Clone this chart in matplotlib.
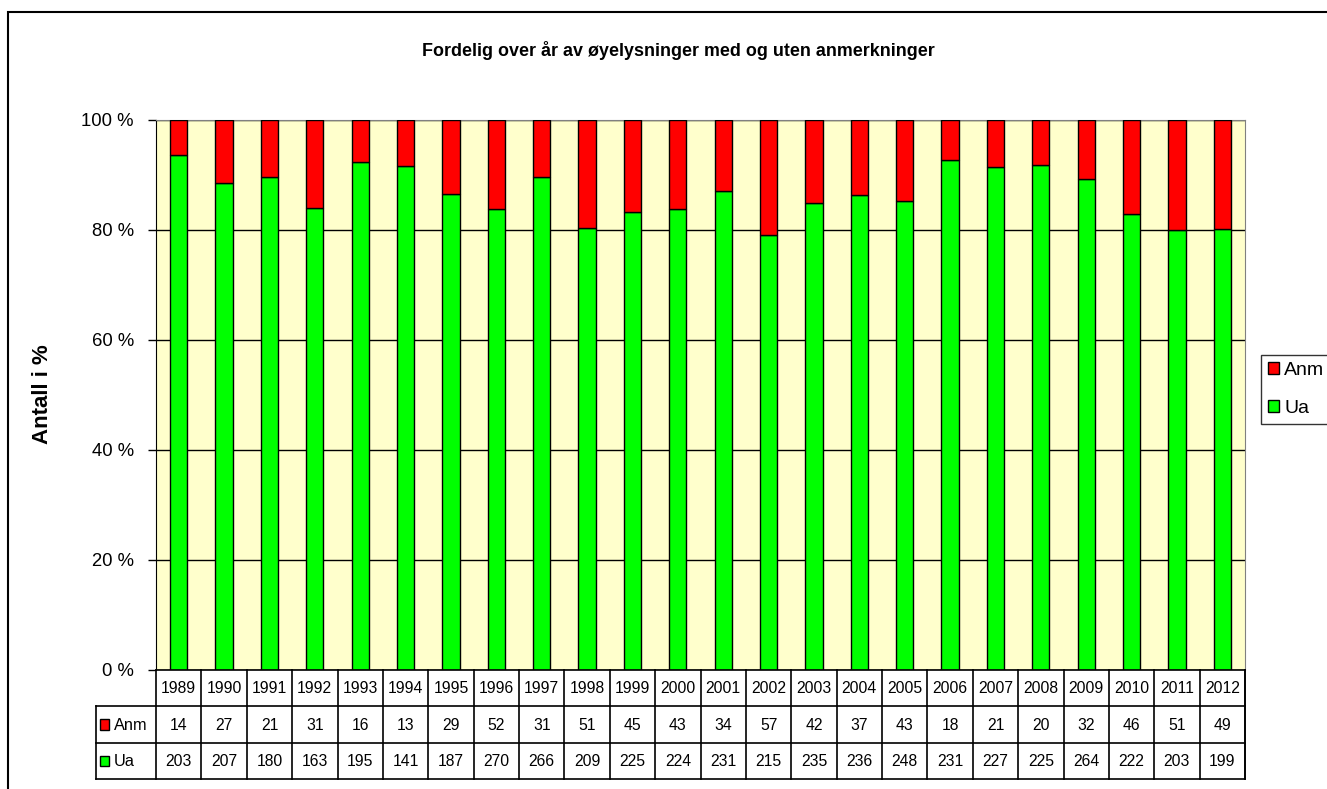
import matplotlib.pyplot as plt
import numpy as np

years = [1989, 1990, 1991, 1992, 1993, 1994, 1995, 1996, 1997, 1998, 1999, 2000,
         2001, 2002, 2003, 2004, 2005, 2006, 2007, 2008, 2009, 2010, 2011, 2012]
anm = [14, 27, 21, 31, 16, 13, 29, 52, 31, 51, 45, 43,
       34, 57, 42, 37, 43, 18, 21, 20, 32, 46, 51, 49]
ua = [203, 207, 180, 163, 195, 141, 187, 270, 266, 209, 225, 224,
      231, 215, 235, 236, 248, 231, 227, 225, 264, 222, 203, 199]

title = 'Fordelig over år av øyelysninger med og uten anmerkninger'
ylabel = 'Antall i %'
red = '#ff0000'
green = '#00ff00'

plt.rcParams['font.family'] = ['Liberation Sans', 'DejaVu Sans']

W, H = 1327, 789
fig = plt.figure(figsize=(W / 100, H / 100), dpi=100)

# outer chart frame
frame = plt.Rectangle((8 / W, -0.1), 1.2, 1 - 12 / H + 0.1, transform=fig.transFigure,
                      fill=False, edgecolor='black', lw=1.5)
fig.patches.append(frame)

left, right, top, bottom = 156, 1245, 120, 670
ax = fig.add_axes([left / W, 1 - bottom / H, (right - left) / W, (bottom - top) / H])

anm = np.array(anm, dtype=float)
ua = np.array(ua, dtype=float)
tot = anm + ua
ua_pct = 100 * ua / tot
anm_pct = 100 * anm / tot
x = np.arange(len(years))

ax.set_facecolor('#ffffcc')
ax.bar(x, ua_pct, width=0.38, color=green, edgecolor='black', lw=1, label='Ua', zorder=3)
ax.bar(x, anm_pct, width=0.38, bottom=ua_pct, color=red, edgecolor='black', lw=1,
       label='Anm', zorder=3)

ax.set_xlim(-0.5, len(years) - 0.5)
ax.set_ylim(0, 100)
ax.set_yticks(range(0, 101, 20))
ax.set_yticklabels(['%d %%' % v for v in range(0, 101, 20)], fontsize=13.3)
ax.yaxis.grid(True, color='black', lw=1, zorder=2)
ax.set_xticks([])
ax.tick_params(axis='y', length=6, width=1, direction='out', pad=10)
for s in ['top', 'right']:
    ax.spines[s].set_color('#808080')
ax.spines['bottom'].set_visible(False)

fig.text(678 / W, 1 - 50 / H, title, ha='center', va='center',
         fontsize=12.9, fontweight='bold')
fig.text(43 / W, 1 - 394 / H, ylabel, rotation=90, ha='center', va='center',
         fontsize=16, fontweight='bold')

# data table under the plot
tab_bottom = 779
tax = fig.add_axes([left / W, 1 - tab_bottom / H, (right - left) / W, (tab_bottom - bottom) / H])
tax.set_xlim(-0.5, len(years) - 0.5)
tax.set_ylim(3, 0)
tax.axis('off')
col_w = (right - left) / len(years)
lab_left = -0.5 - 60 / col_w
lk = dict(color='black', lw=1.2, clip_on=False)
# horizontal lines
tax.plot([-0.5, len(years) - 0.5], [0, 0], **lk)
tax.plot([lab_left, len(years) - 0.5], [1, 1], **lk)
tax.plot([lab_left, len(years) - 0.5], [2, 2], **lk)
tax.plot([lab_left, len(years) - 0.5], [3, 3], **lk)
# vertical lines
for b in np.arange(-0.5, len(years), 1.0):
    tax.plot([b, b], [0, 3], **lk)
tax.plot([len(years) - 0.5] * 2, [0, 3], **lk)
tax.plot([lab_left, lab_left], [1, 3], **lk)

fs = 11.3
for i, yr in enumerate(years):
    tax.text(i, 0.52, str(yr), ha='center', va='center', fontsize=fs)
    tax.text(i, 1.52, '%d' % anm[i], ha='center', va='center', fontsize=fs)
    tax.text(i, 2.52, '%d' % ua[i], ha='center', va='center', fontsize=fs)

sq = 9 / col_w
for row, (name, c) in enumerate([('Anm', red), ('Ua', green)]):
    yc = 1.5 + row
    tax.add_patch(plt.Rectangle((lab_left + 4 / col_w, yc - 0.14), sq, 0.28,
                                facecolor=c, edgecolor='black', lw=1, clip_on=False))
    tax.text(lab_left + 18 / col_w, yc + 0.02, name, ha='left', va='center', fontsize=11.8)

handles, labels = ax.get_legend_handles_labels()
leg = fig.legend(handles[::-1], labels[::-1], loc='upper left',
                 bbox_to_anchor=(1261 / W, 1 - 355 / H), fontsize=14,
                 frameon=True, fancybox=False, edgecolor='black',
                 handlelength=0.55, handleheight=0.55, handletextpad=0.3,
                 borderpad=0.35, labelspacing=1.1, borderaxespad=0)
leg.get_frame().set_linewidth(1)

fig.savefig('out.png', dpi=100)
